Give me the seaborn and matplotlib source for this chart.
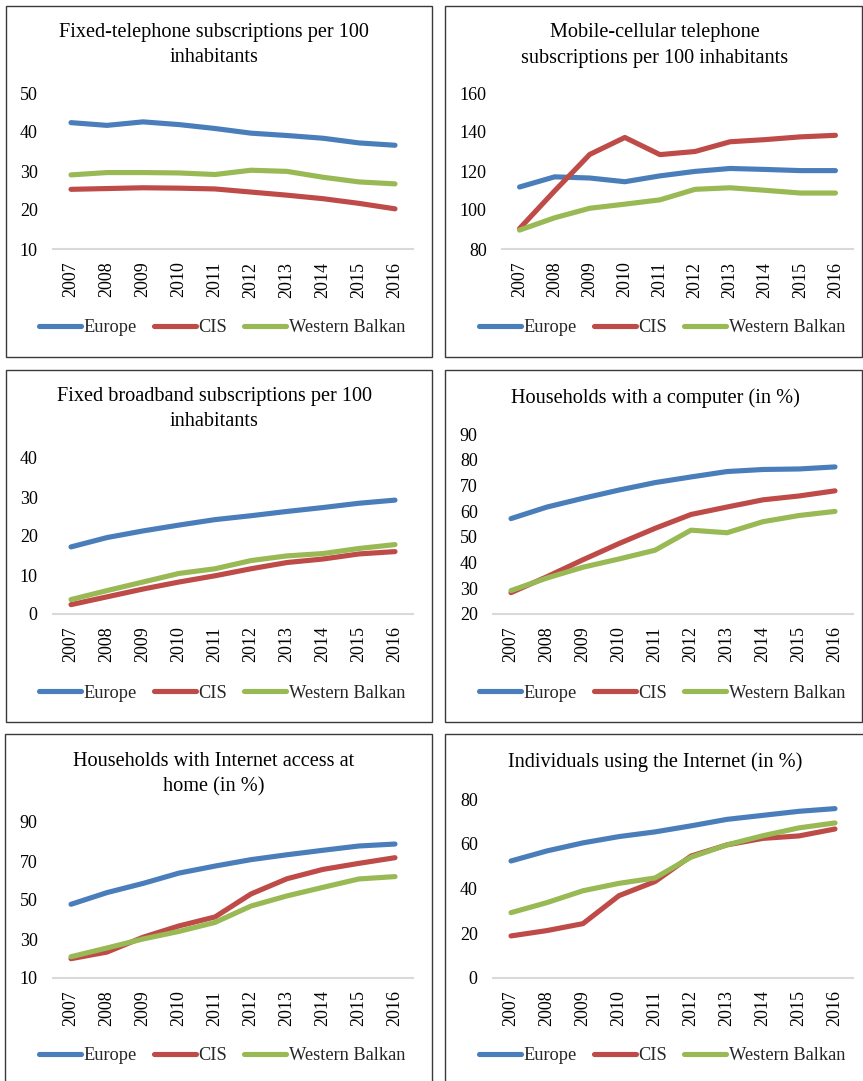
import numpy as np
import pandas as pd
import matplotlib
matplotlib.use("Agg")
import matplotlib.pyplot as plt
from matplotlib.patches import Rectangle
import seaborn as sns

years = ["2007", "2008", "2009", "2010", "2011", "2012", "2013", "2014", "2015", "2016"]
regions = ["Europe", "CIS", "Western Balkan"]

titles = [
    "Fixed-telephone subscriptions per 100\ninhabitants",
    "Mobile-cellular telephone\nsubscriptions per 100 inhabitants",
    "Fixed broadband subscriptions per 100\ninhabitants",
    "Households with a computer (in %)",
    "Households with Internet access at\nhome (in %)",
    "Individuals using the Internet (in %)",
]

fixed_tel_europe = [42.4, 41.7, 42.6, 41.9, 40.9, 39.7, 39.1, 38.4, 37.2, 36.6]
fixed_tel_cis = [25.3, 25.5, 25.7, 25.6, 25.4, 24.6, 23.8, 22.9, 21.7, 20.3]
fixed_tel_wb = [29.0, 29.6, 29.6, 29.5, 29.1, 30.2, 29.9, 28.4, 27.2, 26.7]

mobile_europe = [111.8, 117.0, 116.4, 114.5, 117.5, 119.8, 121.3, 120.8, 120.2, 120.2]
mobile_cis = [90.5, 109.8, 128.5, 137.2, 128.4, 130.0, 135.0, 136.1, 137.5, 138.3]
mobile_wb = [89.7, 96.0, 100.9, 103.0, 105.2, 110.6, 111.4, 110.1, 108.7, 108.7]

broadband_europe = [17.2, 19.6, 21.3, 22.8, 24.2, 25.2, 26.3, 27.3, 28.4, 29.2]
broadband_cis = [2.4, 4.4, 6.4, 8.2, 9.8, 11.6, 13.2, 14.1, 15.4, 16.0]
broadband_wb = [3.7, 6.0, 8.2, 10.4, 11.6, 13.7, 14.9, 15.5, 16.8, 17.8]

computer_europe = [57.1, 61.6, 65.0, 68.2, 71.1, 73.3, 75.4, 76.2, 76.4, 77.2]
computer_cis = [28.3, 34.5, 41.1, 47.4, 53.3, 58.7, 61.6, 64.4, 65.9, 67.9]
computer_wb = [29.1, 34.0, 38.2, 41.4, 44.8, 52.6, 51.6, 55.9, 58.3, 59.9]

home_net_europe = [47.8, 53.8, 58.5, 63.8, 67.4, 70.7, 73.2, 75.5, 77.7, 78.7]
home_net_cis = [19.9, 23.3, 30.9, 36.7, 41.3, 53.1, 60.9, 65.7, 68.8, 71.7]
home_net_wb = [20.9, 25.4, 30.0, 33.9, 38.5, 46.9, 52.1, 56.5, 60.8, 62.0]

users_europe = [52.3, 56.8, 60.4, 63.2, 65.3, 68.0, 70.9, 72.7, 74.5, 75.7]
users_cis = [18.8, 21.2, 24.3, 36.8, 43.1, 54.5, 59.5, 62.4, 63.5, 66.6]
users_wb = [29.2, 33.7, 39.0, 42.3, 44.7, 54.0, 59.5, 63.6, 67.1, 69.3]

series = [
    (fixed_tel_europe, fixed_tel_cis, fixed_tel_wb),
    (mobile_europe, mobile_cis, mobile_wb),
    (broadband_europe, broadband_cis, broadband_wb),
    (computer_europe, computer_cis, computer_wb),
    (home_net_europe, home_net_cis, home_net_wb),
    (users_europe, users_cis, users_wb),
]
y_limits = [(10, 50), (80, 160), (0, 40), (20, 90), (10, 90), (0, 80)]
y_steps = [10, 20, 10, 10, 20, 20]

colors = {"Europe": "#4A7EBB", "CIS": "#BE4B48", "Western Balkan": "#98B954"}

sns.set_theme(style="white")
plt.rcParams["font.family"] = ["Liberation Serif", "DejaVu Serif"]

W, H = 863, 1081
fig = plt.figure(figsize=(W / 100, H / 100), dpi=100)

# layout in pixels
axes_px = [
    (53, 413, 93, 249), (502, 853, 93, 249),
    (53, 413, 458, 614), (493, 853, 434, 614),
    (53, 413, 822, 978), (493, 853, 799, 978),
]
boxes_px = [
    (6, 432, 6, 357), (445, 862, 6, 357),
    (6, 432, 370, 722), (445, 862, 370, 722),
    (5, 432, 734, 1095), (445, 870, 734, 1095),
]
title_pos = [
    (214, [33, 58]), (655, [33, 58]),
    (214, [397, 422]), (655, [398]),
    (214, [762, 787]), (655, [762]),
]
legend_pos = [(222, 328), (662, 328), (222, 693), (662, 693), (222, 1056), (662, 1056)]

for i in range(6):
    x0, x1, yt, yb = axes_px[i]
    ax = fig.add_axes([x0 / W, 1 - yb / H, (x1 - x0) / W, (yb - yt) / H])
    e, c, w = series[i]
    df = pd.DataFrame({
        "year": years * 3,
        "value": list(e) + list(c) + list(w),
        "region": [regions[0]] * 10 + [regions[1]] * 10 + [regions[2]] * 10,
    })
    sns.lineplot(data=df, x="year", y="value", hue="region", palette=colors,
                 hue_order=regions, linewidth=3.7, ax=ax, sort=False,
                 solid_capstyle="round", legend=True)
    ax.set_xlim(-0.5, 9.5)
    lo, hi = y_limits[i]
    ax.set_ylim(lo, hi)
    ax.set_yticks(np.arange(lo, hi + 0.1, y_steps[i]))
    ax.set_xlabel("")
    ax.set_ylabel("")
    ax.tick_params(axis="x", labelrotation=90, length=0, pad=9, labelsize=13, colors="#000000")
    ax.tick_params(axis="y", length=0, pad=11, labelsize=13, colors="#000000")
    for s in ["top", "right", "left"]:
        ax.spines[s].set_visible(False)
    ax.spines["bottom"].set_color("#D9D9D9")
    ax.spines["bottom"].set_linewidth(1.5)
    ax.set_facecolor("none")
    ax.grid(False)

    handles, labels = ax.get_legend_handles_labels()
    ax.get_legend().remove()
    lx, ly = legend_pos[i]
    fig.legend(handles, labels, loc="center", bbox_to_anchor=(lx / W, 1 - ly / H),
               ncol=3, frameon=False, fontsize=13.2, handlelength=2.3,
               handletextpad=0.15, columnspacing=0.9, borderpad=0)

    tx, tys = title_pos[i]
    for line, ty in zip(titles[i].split("\n"), tys):
        fig.text(tx / W, 1 - ty / H, line, ha="center", va="center", fontsize=14.6, color="#000000")

    bx0, bx1, by0, by1 = boxes_px[i]
    fig.patches.append(Rectangle((bx0 / W, 1 - by1 / H), (bx1 - bx0) / W, (by1 - by0) / H,
                                 transform=fig.transFigure, fill=False,
                                 edgecolor="#3A3A3A", linewidth=1.0))

for leg_line in fig.legends:
    for l in leg_line.get_lines():
        l.set_linewidth(3.7)
        l.set_solid_capstyle("round")

fig.savefig("out.png", dpi=100)
